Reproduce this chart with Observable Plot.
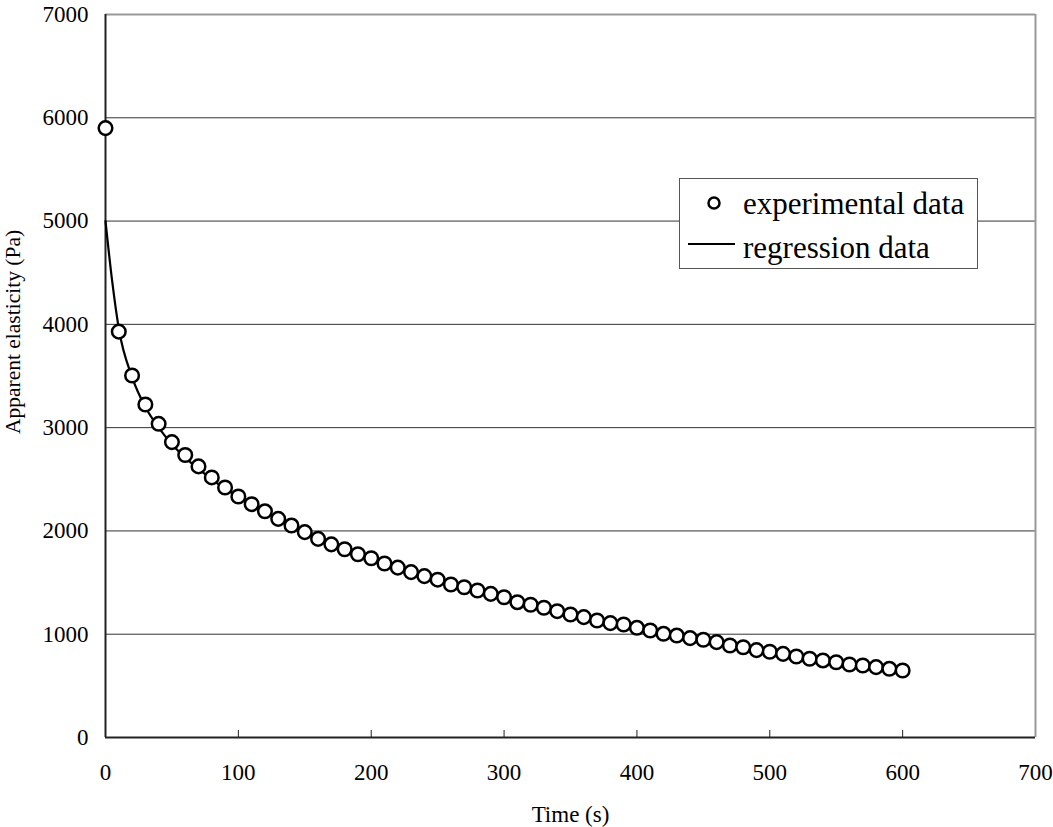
<!DOCTYPE html>
<html>
<head>
<meta charset="utf-8">
<script src="https://cdn.jsdelivr.net/npm/d3@7"></script>
<script src="https://cdn.jsdelivr.net/npm/@observablehq/plot@0.6"></script>
<style>
  html, body { margin: 0; padding: 0; background: white; }
  #wrap { position: relative; width: 1053px; height: 827px; font-family: "Liberation Serif", "Times New Roman", serif; }
  #legend { position: absolute; left: 679px; top: 178px; width: 297px; height: 89px; border: 1px solid #555; background: white; box-sizing: content-box; }
  #legend .row { position: absolute; left: 0; font-size: 31px; line-height: 30px; white-space: nowrap; }
  #legend svg { position: absolute; }
</style>
</head>
<body>
<div id="wrap"></div>
<script>
// Experimental data (time in s, apparent elasticity in Pa)
const times = [0,10,20,30,40,50,60,70,80,90,100,110,120,130,140,150,160,170,180,190,200,210,220,230,240,250,260,270,280,290,300,310,320,330,340,350,360,370,380,390,400,410,420,430,440,450,460,470,480,490,500,510,520,530,540,550,560,570,580,590,600];
const experimental = [5900,3930,3505,3224,3037,2860,2735,2625,2518,2420,2333,2259,2190,2117,2052,1988,1923,1870,1823,1774,1735,1685,1645,1601,1562,1528,1481,1455,1423,1391,1358,1310,1285,1256,1223,1191,1165,1133,1107,1094,1062,1036,1004,987,962,946,923,891,874,846,830,810,784,762,746,729,707,697,681,665,649];
// Regression curve values
const regTimes = [0,5,10,20,30,40,50,60,70,80,90,100,120,140,160,180,200,220,240,260,280,300,320,340,360,380,400,420,440,460,480,500,520,540,560,580,600];
const regression = [5000,4420,3960,3490,3200,3000,2840,2710,2600,2500,2410,2330,2185,2050,1925,1820,1735,1645,1562,1485,1423,1355,1285,1223,1165,1110,1062,1004,962,920,874,830,784,746,707,681,649];
const xTicks = [0,100,200,300,400,500,600,700];
const yTicks = [0,1000,2000,3000,4000,5000,6000,7000];
const xLabel = "Time (s)";
const yLabel = "Apparent elasticity (Pa)";
const seriesNames = ["experimental data", "regression data"];

const expData = times.map((t, i) => ({t, v: experimental[i]}));
const regData = regTimes.map((t, i) => ({t, v: regression[i]}));
const font = "Liberation Serif, Times New Roman, serif";

const chart = Plot.plot({
  width: 1053,
  height: 827,
  marginLeft: 105,
  marginRight: 18,
  marginTop: 14,
  marginBottom: 90,
  style: {fontFamily: font, background: "white", overflow: "visible"},
  x: {domain: [0, 700]},
  y: {domain: [0, 7000]},
  marks: [
    Plot.ruleY(yTicks.slice(1, -1), {stroke: "#333", strokeWidth: 1}),
    Plot.ruleY([7000], {stroke: "#999", strokeWidth: 2}),
    Plot.ruleX([700], {stroke: "#999", strokeWidth: 2}),
    Plot.tickX(xTicks.slice(1, -1), {x: d => d, insetTop: 716, stroke: "#222", strokeWidth: 1}),
    Plot.ruleX([0], {stroke: "#222", strokeWidth: 2}),
    Plot.ruleY([0], {stroke: "#222", strokeWidth: 2}),
    Plot.axisX({ticks: xTicks, tickSize: 0, tickPadding: 26, fontSize: 23, fontFamily: font, fill: "black", label: null, tickFormat: d => String(d)}),
    Plot.axisY({ticks: yTicks, tickSize: 0, tickPadding: 17, fontSize: 23, fontFamily: font, fill: "black", label: null, tickFormat: d => String(d)}),
    Plot.text([xLabel], {frameAnchor: "bottom", dy: 84, fontSize: 23, fontFamily: font, fill: "black"}),
    Plot.text([yLabel], {frameAnchor: "left", textAnchor: "middle", dx: -92, dy: -44, rotate: -90, fontSize: 21.5, fontFamily: font, fill: "black"}),
    Plot.line(regData, {x: "t", y: "v", stroke: "black", strokeWidth: 2.2, curve: "monotone-x"}),
    Plot.dot(expData, {x: "t", y: "v", r: 6.8, stroke: "black", strokeWidth: 2.5, fill: "white"})
  ]
});

const wrap = document.getElementById("wrap");
wrap.appendChild(chart);

// Legend (HTML overlay)
const legend = document.createElement("div");
legend.id = "legend";
legend.innerHTML = `
  <svg style="left:23px;top:13px" width="22" height="22"><circle cx="11" cy="11" r="5.5" fill="white" stroke="black" stroke-width="2.5"/></svg>
  <div class="row" style="left:63px;top:10px">${seriesNames[0]}</div>
  <svg style="left:8px;top:60px" width="50" height="10"><line x1="0" y1="5" x2="47" y2="5" stroke="black" stroke-width="2.2"/></svg>
  <div class="row" style="left:63px;top:54px">${seriesNames[1]}</div>`;
wrap.appendChild(legend);
</script>
</body>
</html>
